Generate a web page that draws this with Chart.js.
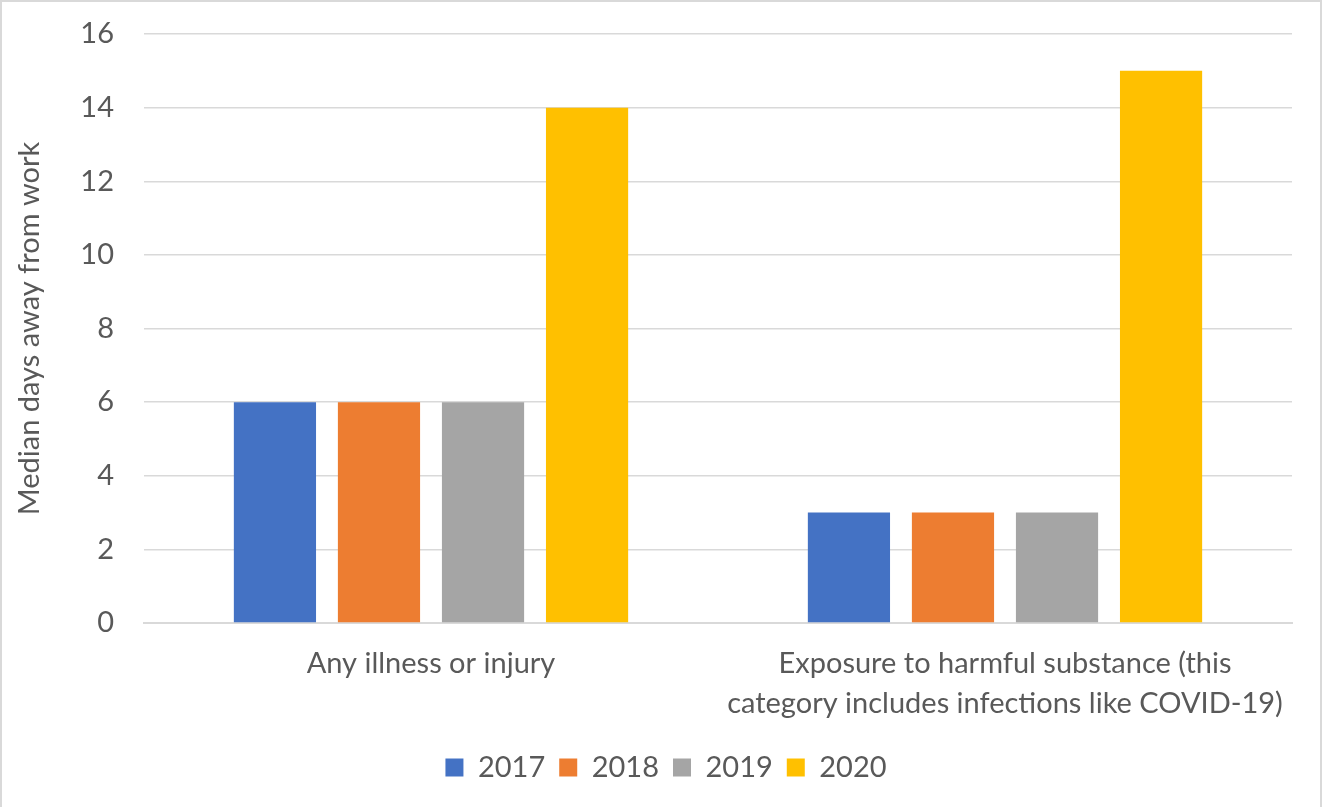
<!DOCTYPE html>
<html lang="en">
<head>
    <meta charset="UTF-8">
    <title>Median days away from work</title>
    <script src="https://cdn.jsdelivr.net/npm/chart.js"></script>
    <style>
        html, body { margin: 0; padding: 0; background: #fff; }
        #wrap {
            position: relative;
            width: 1322px;
            height: 807px;
            box-sizing: border-box;
            border: 2px solid #d9d9d9;
            border-bottom: none;
        }
    </style>
</head>
<body>
    <div id="wrap">
        <canvas id="daysChart"></canvas>
    </div>

<script>
    // data
    const categories = [
        'Any illness or injury',
        ['Exposure to harmful substance (this', 'category includes infections like COVID-19)']
    ];
    const years = ['2017', '2018', '2019', '2020'];
    const values2017 = [6, 3];
    const values2018 = [6, 3];
    const values2019 = [6, 3];
    const values2020 = [14, 15];
    const yTicks = [0, 2, 4, 6, 8, 10, 12, 14, 16];
    const colors = ['#4472C4', '#ED7D31', '#A5A5A5', '#FFC000'];

    const seriesValues = [values2017, values2018, values2019, values2020];
    const textColor = '#595959';
    const gridColor = '#d9d9d9';
    const fontSize = 29;

    Chart.defaults.font.family = 'Lato, "Open Sans", sans-serif';
    Chart.defaults.color = textColor;

    const ctx = document.getElementById('daysChart').getContext('2d');
    const daysChart = new Chart(ctx, {
        type: 'bar',
        data: {
            labels: categories,
            datasets: years.map((y, i) => ({
                label: y,
                data: seriesValues[i],
                backgroundColor: colors[i],
                borderWidth: 0,
                barPercentage: 0.79,
                categoryPercentage: 0.725
            }))
        },
        options: {
            responsive: true,
            maintainAspectRatio: false,
            animation: false,
            layout: {
                // left padding keeps the legend centred like the original
                padding: { top: 32, right: 28, bottom: 15, left: 38 }
            },
            scales: {
                x: {
                    grid: { display: false, drawTicks: false },
                    border: { display: true, color: gridColor, width: 2 },
                    ticks: {
                        font: { size: fontSize, lineHeight: 1.38 },
                        color: textColor,
                        padding: 21,
                        maxRotation: 0,
                        autoSkip: false
                    },
                    afterFit: (axis) => { axis.height = 116; }
                },
                y: {
                    min: 0,
                    max: 16,
                    afterBuildTicks: (axis) => { axis.ticks = yTicks.map(v => ({ value: v })); },
                    // invisible tick marks give the gap between labels and gridlines
                    grid: { color: gridColor, lineWidth: 1.5, drawTicks: true, tickLength: 30, tickColor: 'rgba(0,0,0,0)' },
                    border: { display: false },
                    ticks: {
                        font: { size: fontSize },
                        color: textColor,
                        padding: 0
                    },
                    title: {
                        display: true,
                        text: 'Median days away from work',
                        font: { size: fontSize },
                        color: textColor,
                        padding: { top: -28, bottom: 0 }
                    },
                    afterFit: (axis) => { axis.width = 104; }
                }
            },
            plugins: {
                legend: {
                    position: 'bottom',
                    labels: {
                        font: { size: fontSize },
                        color: textColor,
                        boxWidth: 18,
                        boxHeight: 18,
                        padding: 14
                    }
                },
                tooltip: { enabled: false }
            }
        }
    });
</script>
</body>
</html>
